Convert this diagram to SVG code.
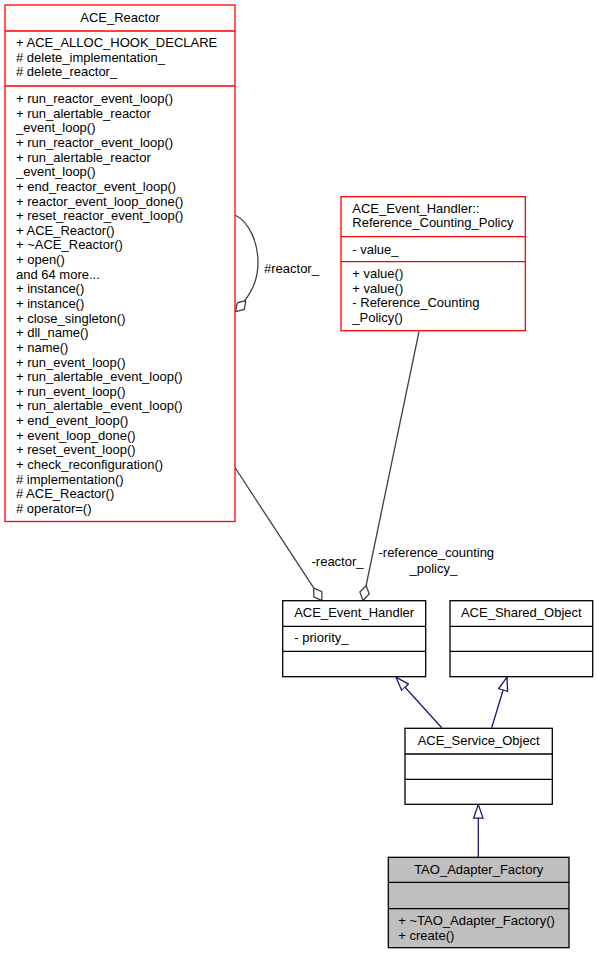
<svg xmlns="http://www.w3.org/2000/svg" width="597" height="955" viewBox="0 0 597 955">
<style>
text{font-family:"Liberation Sans",Arial,Helvetica,sans-serif;font-size:13px;fill:#000}
.c{text-anchor:middle}
.box{fill:#fff;stroke:#000;stroke-width:1.3}
.red{fill:#fff;stroke:#ff0000;stroke-width:1.3}
.cur{fill:#bfbfbf;stroke:#000;stroke-width:1.3}
.agg{fill:none;stroke:#404040;stroke-width:1.3}
.inh{fill:none;stroke:#191970;stroke-width:1.3}
</style>
<defs>
<marker id="dia" viewBox="0 0 16 11" refX="15.4" refY="5.5" markerWidth="16" markerHeight="11" markerUnits="userSpaceOnUse" orient="auto">
<path d="M0.3,5.5 L7.7,0.7 L15.4,5.5 L7.7,10.3 Z" fill="#fff" stroke="#404040" stroke-width="1.3"/>
</marker>
<marker id="tri" viewBox="0 0 15 11" refX="14" refY="5.5" markerWidth="15" markerHeight="11" markerUnits="userSpaceOnUse" orient="auto">
<path d="M0.5,0.8 L14,5.5 L0.5,10.2 Z" fill="#fff" stroke="#191970" stroke-width="1.3"/>
</marker>
</defs>
<g id="edges">
<path class="agg" d="M235,215 C249,222 258,242 258,262 C258,279 253,293 235.5,311.7" marker-end="url(#dia)"/>
<text x="264" y="273">#reactor_</text>
<path class="agg" d="M234,466 L322,600.7" marker-end="url(#dia)"/>
<text x="311.5" y="565.6">-reactor_</text>
<path class="agg" d="M419,331.7 L363,600.5" marker-end="url(#dia)"/>
<text class="c" x="436.3" y="557.3">-reference_counting</text>
<text class="c" x="433.3" y="572.9">_policy_</text>
<path class="inh" d="M441.7,727.7 L396,677.2" marker-end="url(#tri)"/>
<path class="inh" d="M491.7,727.7 L507,677.2" marker-end="url(#tri)"/>
<path class="inh" d="M478.3,857.3 L478.3,804.6" marker-end="url(#tri)"/>
</g>
<g id="ACE_Reactor">
<rect class="red" x="5" y="5" width="230" height="516.5"/>
<line class="red" x1="5" y1="31" x2="235" y2="31"/>
<line class="red" x1="5" y1="86" x2="235" y2="86"/>
<text class="c" x="120" y="22.3">ACE_Reactor</text>
<text x="16" y="47">+ ACE_ALLOC_HOOK_DECLARE</text>
<text x="16" y="61.7"># delete_implementation_</text>
<text x="16" y="76.3"># delete_reactor_</text>
<text x="16" y="103">+ run_reactor_event_loop()</text>
<text x="16" y="117.6">+ run_alertable_reactor</text>
<text x="16" y="132.3">_event_loop()</text>
<text x="16" y="146.9">+ run_reactor_event_loop()</text>
<text x="16" y="161.6">+ run_alertable_reactor</text>
<text x="16" y="176.2">_event_loop()</text>
<text x="16" y="190.8">+ end_reactor_event_loop()</text>
<text x="16" y="205.5">+ reactor_event_loop_done()</text>
<text x="16" y="220.1">+ reset_reactor_event_loop()</text>
<text x="16" y="234.8">+ ACE_Reactor()</text>
<text x="16" y="249.4">+ ~ACE_Reactor()</text>
<text x="16" y="264">+ open()</text>
<text x="16" y="278.7">and 64 more...</text>
<text x="16" y="293.3">+ instance()</text>
<text x="16" y="308">+ instance()</text>
<text x="16" y="322.6">+ close_singleton()</text>
<text x="16" y="337.2">+ dll_name()</text>
<text x="16" y="351.9">+ name()</text>
<text x="16" y="366.5">+ run_event_loop()</text>
<text x="16" y="381.2">+ run_alertable_event_loop()</text>
<text x="16" y="395.8">+ run_event_loop()</text>
<text x="16" y="410.4">+ run_alertable_event_loop()</text>
<text x="16" y="425.1">+ end_event_loop()</text>
<text x="16" y="439.7">+ event_loop_done()</text>
<text x="16" y="454.4">+ reset_event_loop()</text>
<text x="16" y="469">+ check_reconfiguration()</text>
<text x="16" y="483.6"># implementation()</text>
<text x="16" y="498.3"># ACE_Reactor()</text>
<text x="16" y="512.9"># operator=()</text>
</g>
<g id="Reference_Counting_Policy">
<rect class="red" x="341" y="196.7" width="184.3" height="134"/>
<line class="red" x1="341" y1="236.7" x2="525.3" y2="236.7"/>
<line class="red" x1="341" y1="261.7" x2="525.3" y2="261.7"/>
<text x="352.3" y="212.9">ACE_Event_Handler::</text>
<text x="352.3" y="226.9">Reference_Counting_Policy</text>
<text x="352.3" y="253.6">- value_</text>
<text x="352.3" y="277.9">+ value()</text>
<text x="352.3" y="292.6">+ value()</text>
<text x="352.3" y="307.2">- Reference_Counting</text>
<text x="352.3" y="321.9">_Policy()</text>
</g>
<g id="ACE_Event_Handler">
<rect class="box" x="282.7" y="600.7" width="143" height="76"/>
<line class="box" x1="282.7" y1="626.3" x2="425.7" y2="626.3"/>
<line class="box" x1="282.7" y1="651.3" x2="425.7" y2="651.3"/>
<text class="c" x="354.2" y="617">ACE_Event_Handler</text>
<text x="294.3" y="642.3">- priority_</text>
</g>
<g id="ACE_Shared_Object">
<rect class="box" x="450" y="600.7" width="142.7" height="76"/>
<line class="box" x1="450" y1="626.3" x2="592.7" y2="626.3"/>
<line class="box" x1="450" y1="651.3" x2="592.7" y2="651.3"/>
<text class="c" x="521.3" y="617">ACE_Shared_Object</text>
</g>
<g id="ACE_Service_Object">
<rect class="box" x="405" y="728.3" width="147.3" height="76"/>
<line class="box" x1="405" y1="754" x2="552.3" y2="754"/>
<line class="box" x1="405" y1="779.3" x2="552.3" y2="779.3"/>
<text class="c" x="478.7" y="745.3">ACE_Service_Object</text>
</g>
<g id="TAO_Adapter_Factory">
<rect class="cur" x="388.3" y="857.3" width="180.7" height="90.4"/>
<line class="cur" x1="388.3" y1="882.3" x2="569" y2="882.3"/>
<line class="cur" x1="388.3" y1="908.7" x2="569" y2="908.7"/>
<text class="c" x="478.7" y="873.6">TAO_Adapter_Factory</text>
<text x="398.3" y="924.6">+ ~TAO_Adapter_Factory()</text>
<text x="398.3" y="939.6">+ create()</text>
</g>
</svg>
